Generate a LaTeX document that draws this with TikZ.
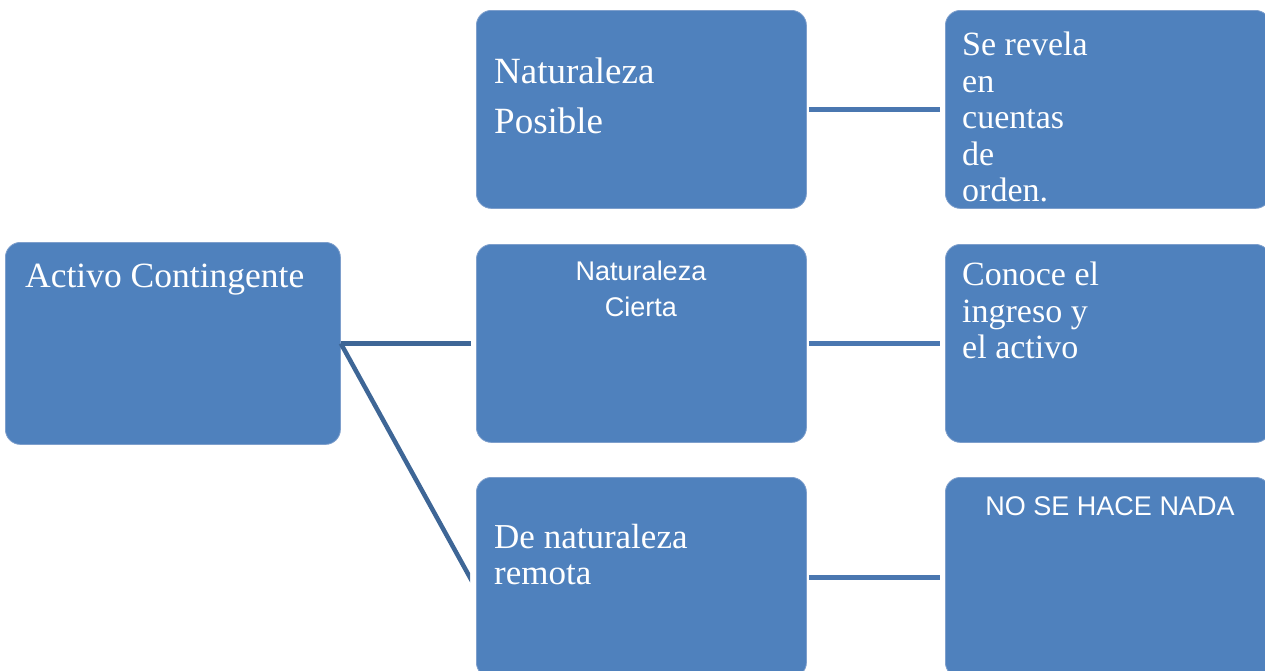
\documentclass[tikz,border=0pt]{standalone}
\usepackage{fontspec}
\setmainfont{Liberation Serif}
\newfontfamily\sansf{Liberation Sans}
\definecolor{boxfill}{HTML}{4F81BD}
\definecolor{boxline}{HTML}{7E9FCC}
\definecolor{linkA}{HTML}{3E6696}
\definecolor{linkB}{HTML}{4A77B0}
\begin{document}
\begin{tikzpicture}[x=1pt,y=-1pt,
  box/.style={draw=boxline, line width=0.8pt, fill=boxfill, rounded corners=15pt, inner sep=0pt, anchor=north west},
  sertext/.style={text=white, font=\fontsize{#1}{#1}\selectfont, anchor=base west, inner sep=0pt},
  santext/.style={text=white, font=\sansf\fontsize{27}{27}\selectfont, anchor=base, inner sep=0pt},
  linkone/.style={draw=linkA, line width=5pt},
  linktwo/.style={draw=linkB, line width=5pt, shorten <=2pt, shorten >=5pt}]
\useasboundingbox (0,0) rectangle (1265,670);
\clip (0,0) rectangle (1265,670);
% boxes
\node[box, minimum width=335pt, minimum height=202pt] (activo) at (5,242) {};
\node[box, minimum width=330pt, minimum height=198pt] (posible) at (476,10) {};
\node[box, minimum width=330pt, minimum height=198pt] (cierta) at (476,244) {};
\node[box, minimum width=330pt, minimum height=200pt] (remota) at (476,477) {};
\node[box, minimum width=325pt, minimum height=198pt] (revela) at (945,10) {};
\node[box, minimum width=325pt, minimum height=198pt] (conoce) at (945,244) {};
\node[box, minimum width=325pt, minimum height=200pt] (nada) at (945,477) {};
% texts
\node[sertext=35.5] (t1) at (25,287) {Activo Contingente};
\node[sertext=37] (t2a) at (494,83) {Naturaleza};
\node[sertext=37] (t2b) at (494,133) {Posible};
\node[santext] (t3a) at (641,280) {Naturaleza};
\node[santext] (t3b) at (641,316) {Cierta};
\node[sertext=35] (t4a) at (494,548) {De naturaleza};
\node[sertext=35] (t4b) at (494,584) {remota};
\node[sertext=34] (t5a) at (962,55) {Se revela};
\node[sertext=34] (t5b) at (962,92) {en};
\node[sertext=34] (t5c) at (962,128) {cuentas};
\node[sertext=34] (t5d) at (962,165) {de};
\node[sertext=34] (t5e) at (962,201) {orden.};
\node[sertext=34] (t6a) at (962,285) {Conoce el};
\node[sertext=34] (t6b) at (962,322) {ingreso y};
\node[sertext=34] (t6c) at (962,358) {el activo};
\node[santext] (t7) at (1110,515) {NO SE HACE NADA};
% connectors
\draw[linkone, shorten >=5pt] (activo.east) -- (cierta.west);
\begin{scope}
\clip (0,0) rectangle (470,670);
\draw[linkone, line width=4.5pt] (activo.east) -- ([yshift=-11pt]remota.west);
\end{scope}
\draw[linktwo] (posible.east) -- (revela.west);
\draw[linktwo] (cierta.east) -- (conoce.west);
\draw[linktwo] (remota.east) -- (nada.west);
\end{tikzpicture}
\end{document}
